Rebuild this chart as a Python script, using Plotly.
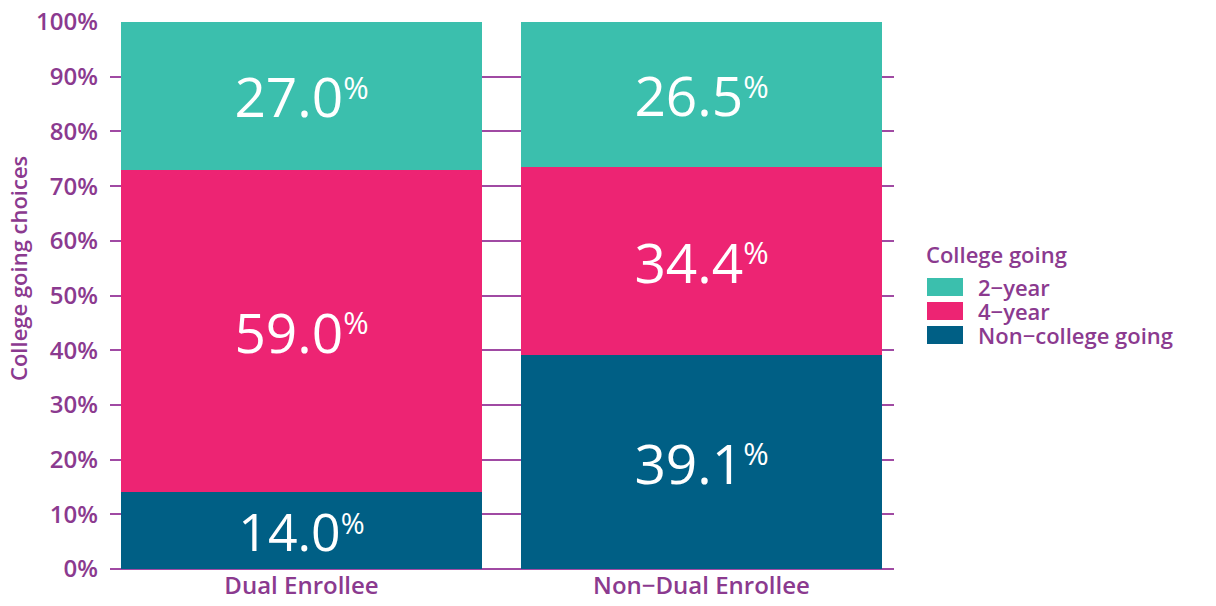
import plotly.graph_objects as go

categories = ["Dual Enrollee", "Non\u2212Dual Enrollee"]
series_names = ["Non\u2212college going", "4\u2212year", "2\u2212year"]
non_college = [14.0, 39.1]
four_year = [59.0, 34.4]
two_year = [27.0, 26.5]
y_ticks = [0, 10, 20, 30, 40, 50, 60, 70, 80, 90, 100]
y_tick_labels = [f"{v}%" for v in y_ticks]

colors = {"Non\u2212college going": "#005f85", "4\u2212year": "#ed2473", "2\u2212year": "#3bbfad"}
purple = "#8b3a8f"
font_family = "Open Sans, Lato, sans-serif"

W, H = 1216, 606
PL, PR, PT, PB = 110, 894, 22, 569  # plot box in page pixels

fig = go.Figure()
for name, vals in zip(series_names, [non_college, four_year, two_year]):
    fig.add_trace(go.Bar(
        x=categories, y=vals, name=name,
        marker=dict(color=colors[name], line=dict(width=0)),
        width=0.9025,
        text=[f"{v:.1f}<span style='font-size:44px'><sup>%</sup></span>" for v in vals],
        textposition="inside", insidetextanchor="middle", textangle=0,
        textfont=dict(color="white", size=55, family=font_family),
        hoverinfo="skip", showlegend=False,
    ))

fig.update_layout(
    barmode="stack",
    width=W, height=H,
    margin=dict(l=PL, r=W - PR, t=PT, b=H - PB, autoexpand=False),
    plot_bgcolor="white", paper_bgcolor="white",
    font=dict(family=font_family, color=purple),
    xaxis=dict(
        range=[-0.47875, 1.48125], showgrid=False, zeroline=False, showline=False,
        ticks="", tickfont=dict(size=24, color=purple, family=font_family, weight=600),
        fixedrange=True,
    ),
    yaxis=dict(
        range=[0, 100], tickvals=y_ticks, ticktext=y_tick_labels,
        showgrid=True, gridcolor="#a04aa3", gridwidth=1.5,
        zeroline=True, zerolinecolor="#a04aa3", zerolinewidth=1.5,
        showline=False, ticks="", ticklabelstandoff=11, ticklabeloverflow="allow",
        tickfont=dict(size=24, color=purple, family=font_family, weight=600),
        automargin=False,
    ),
    showlegend=False,
)

def px_to_paper_x(px):
    return (px - PL) / (PR - PL)

def px_to_paper_y(py):
    return (PB - py) / (PB - PT)

# y axis title
fig.add_annotation(
    x=px_to_paper_x(18), y=px_to_paper_y(269), xref="paper", yref="paper",
    text="College going choices", showarrow=False, textangle=-90,
    xanchor="center", yanchor="middle",
    font=dict(size=22, color=purple, family=font_family, weight=600),
)

# manual legend
legend_items = ["2\u2212year", "4\u2212year", "Non\u2212college going"]
legend_y_px = [287, 311, 335]
x0_px, x1_px = 927, 963

fig.add_annotation(
    x=px_to_paper_x(924), y=px_to_paper_y(254), xref="paper", yref="paper",
    text="College going", showarrow=False, xanchor="left", yanchor="middle",
    font=dict(size=22, color=purple, family=font_family, weight=600),
)
for name, cy in zip(legend_items, legend_y_px):
    fig.add_shape(
        type="rect", xref="paper", yref="paper",
        x0=px_to_paper_x(x0_px), x1=px_to_paper_x(x1_px),
        y0=px_to_paper_y(cy + 9), y1=px_to_paper_y(cy - 9),
        fillcolor=colors[name], line=dict(width=0),
    )
    fig.add_annotation(
        x=px_to_paper_x(976), y=px_to_paper_y(cy), xref="paper", yref="paper",
        text=name, showarrow=False, xanchor="left", yanchor="middle",
        font=dict(size=22, color=purple, family=font_family, weight=600),
    )

fig.write_html(
    "out.html",
    config={"displayModeBar": False},
    post_script="document.body.style.margin='0px';document.body.style.padding='0px';",
)
